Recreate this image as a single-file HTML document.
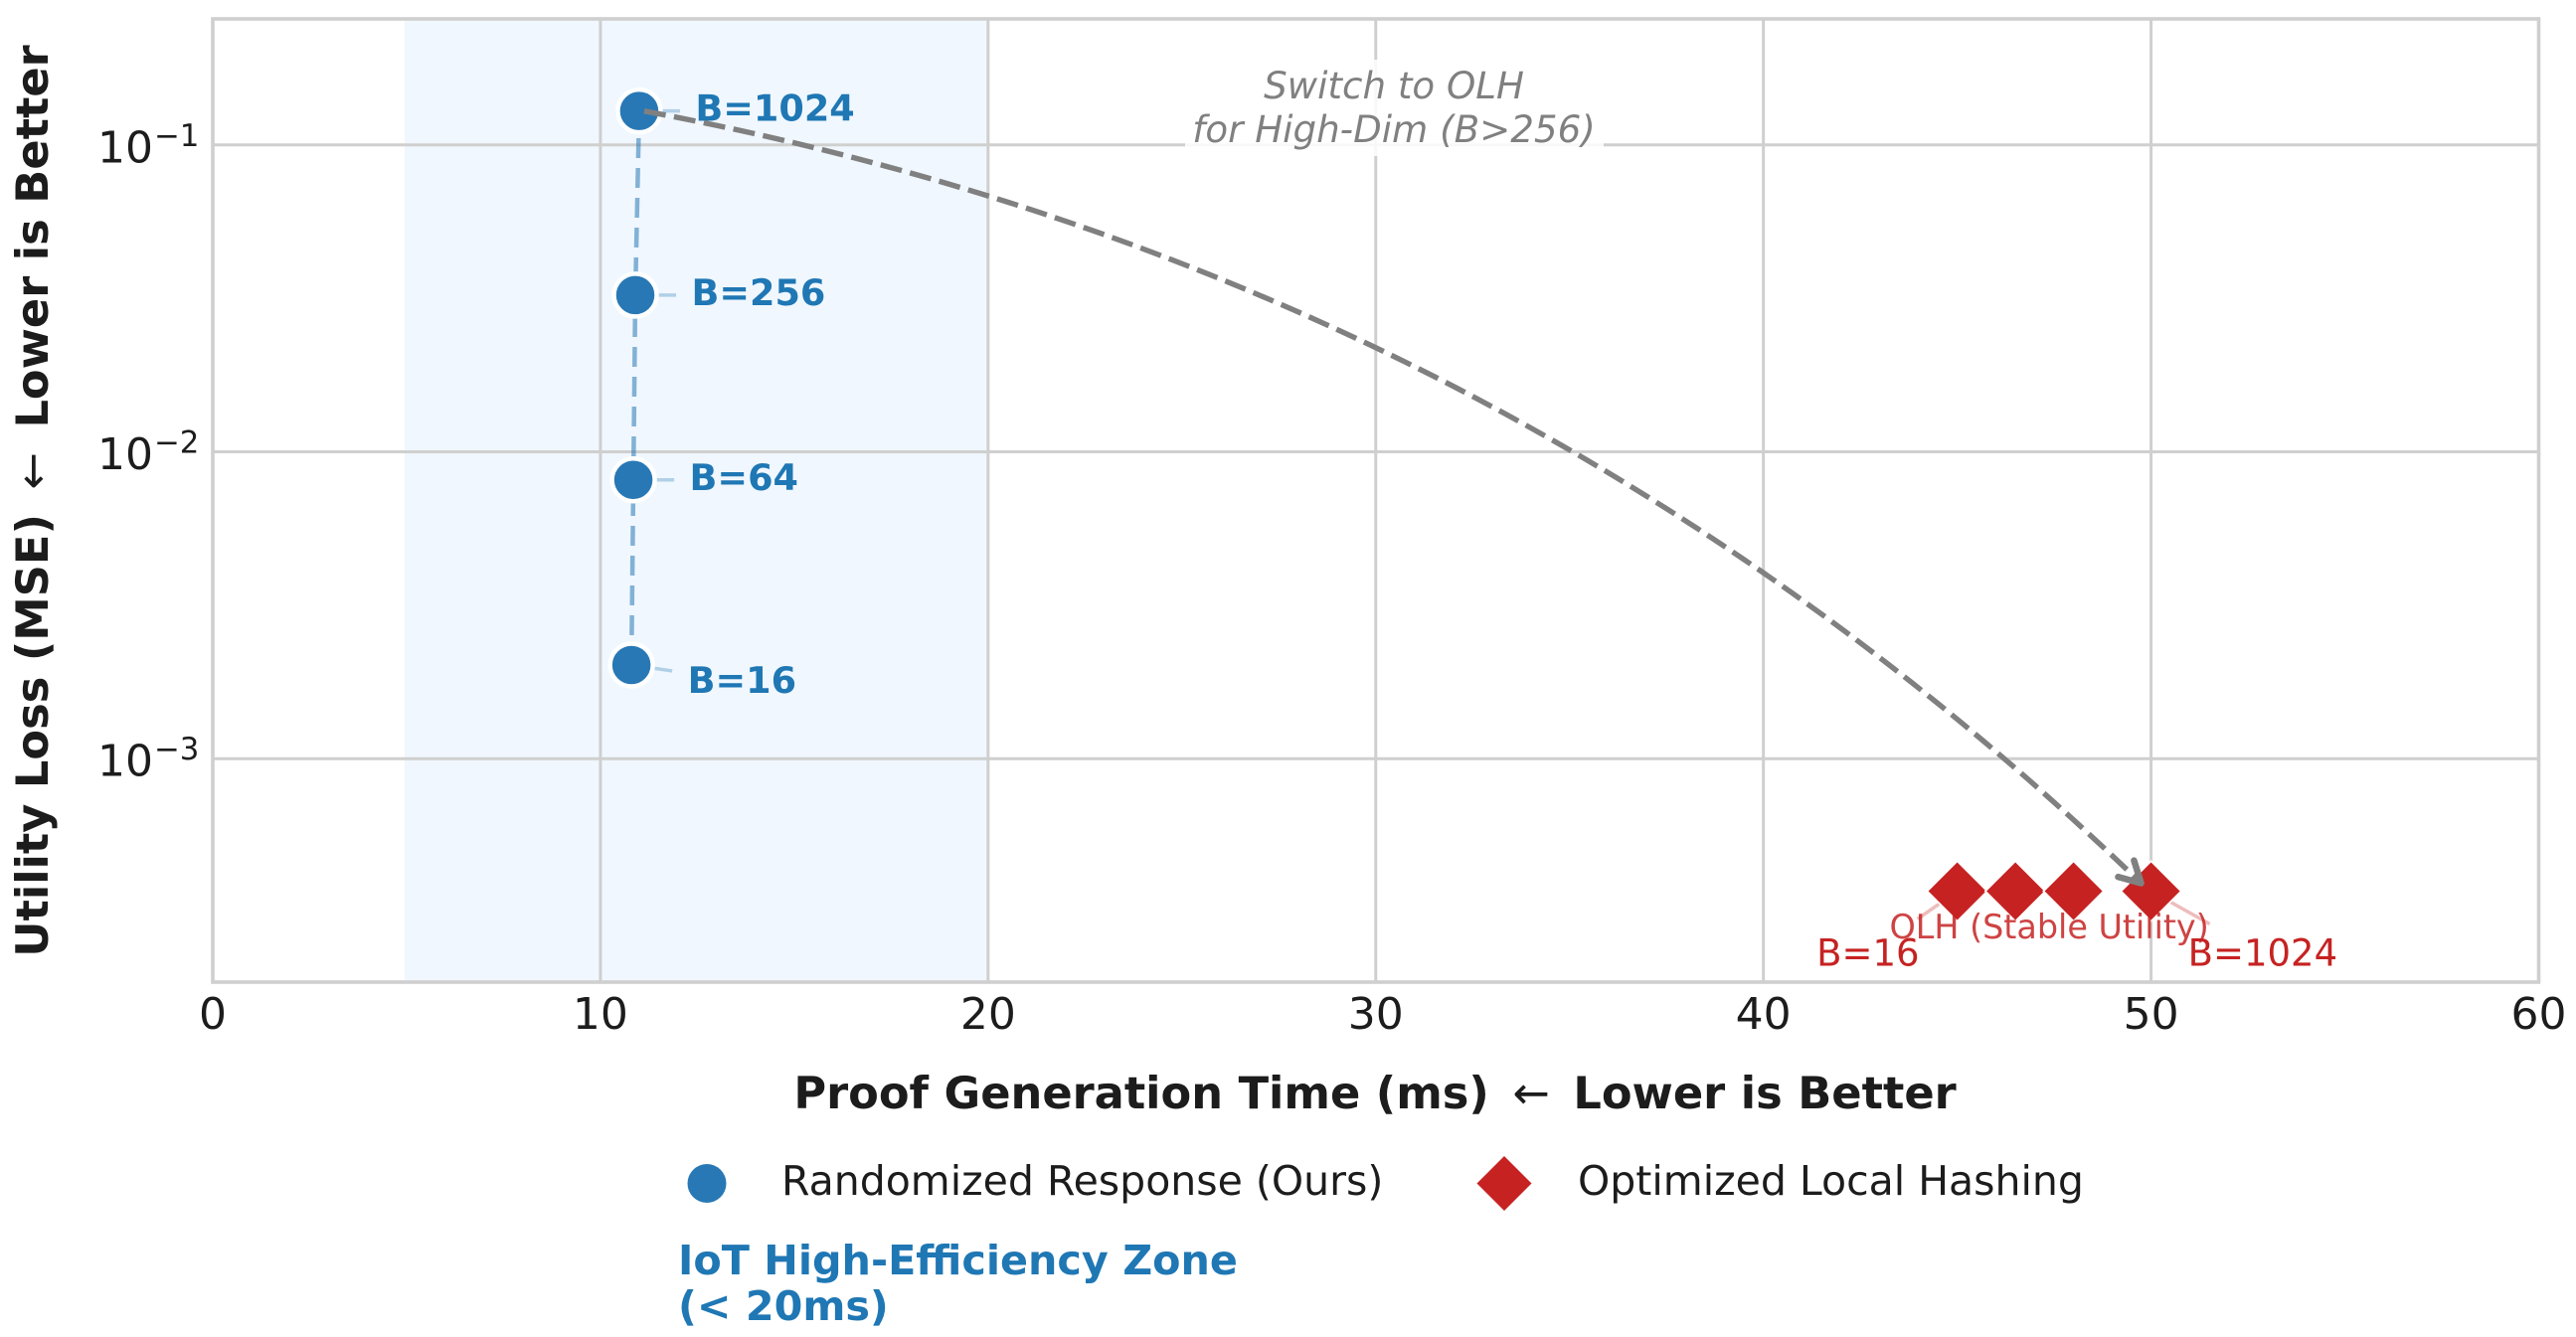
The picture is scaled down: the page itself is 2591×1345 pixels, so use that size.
<!DOCTYPE html>
<html lang="en">
<head>
<meta charset="utf-8">
<title>Proof Generation Time vs Utility Loss</title>
<style>
  html, body { margin: 0; padding: 0; background: #ffffff; }
  svg { display: block; font-family: "DejaVu Sans", "Liberation Sans", sans-serif; }
</style>
</head>
<body>
<svg id="chart" xmlns="http://www.w3.org/2000/svg" width="2591" height="1345" viewBox="0 0 2591 1345">
  <rect x="0" y="0" width="2591" height="1345" fill="#ffffff"/>
  <g id="zone-layer"></g>
  <g id="grid-layer"></g>
  <g id="frame-layer"></g>
  <g id="tick-layer" fill="#1c1c1c"></g>
  <g id="series-layer"></g>
  <g id="arrow-layer"></g>

  <rect x="1192" y="60" width="421" height="97" fill="#ffffff" fill-opacity="0.85"/>
  <text x="1402" y="99" text-anchor="middle" font-size="37.2" font-style="italic" fill="#808080">Switch to OLH</text>
  <text x="1402" y="143" text-anchor="middle" font-size="37.2" font-style="italic" fill="#808080">for High-Dim (B&gt;256)</text>

  <text x="1383" y="1115" text-anchor="middle" font-size="44.7" font-weight="bold" fill="#1c1c1c">Proof Generation Time (ms) <tspan dx="8" font-weight="normal">←</tspan><tspan dx="8"> Lower is Better</tspan></text>
  <text transform="translate(48 504) rotate(-90)" text-anchor="middle" font-size="44.7" font-weight="bold" fill="#1c1c1c">Utility Loss (MSE) <tspan dx="9" font-weight="normal">←</tspan><tspan dx="9"> Lower is Better</tspan></text>

  <g>
    <g>
      <circle cx="711" cy="1190.5" r="19.5" fill="#2878b5"/>
      <text x="786" y="1202" font-size="41" fill="#1c1c1c">Randomized Response (Ours)</text>
    </g>
    <g>
      <polygon points="1513,1163 1540.5,1190.5 1513,1218 1485.5,1190.5" fill="#c62222"/>
      <text x="1587" y="1202" font-size="41" fill="#1c1c1c">Optimized Local Hashing</text>
    </g>
  </g>

  <text x="682" y="1282" font-size="41.3" font-weight="bold" fill="#1f77b4">IoT High-Efficiency Zone</text>
  <text x="682" y="1328" font-size="41.3" font-weight="bold" fill="#1f77b4">(&lt; 20ms)</text>
</svg>

<script>
// ---- chart data ----
const xTicks = [0, 10, 20, 30, 40, 50, 60];
const yTickExponents = [-1, -2, -3];
const xDomain = [0, 60];
const yDomain = [0.000187, 0.2575];
const zoneRange = [4.95, 20];

const rrBudgets = ["B=16", "B=64", "B=256", "B=1024"];
const rrTime = [10.8, 10.85, 10.9, 11.0];
const rrMse = [0.00202, 0.0081, 0.0324, 0.129];

const olhBudgets = ["B=16", "", "", "B=1024"];
const olhTime = [45, 46.5, 48, 50];
const olhMse = [0.00037, 0.00037, 0.00037, 0.00037];
const olhSeriesLabel = "OLH (Stable Utility)";

// ---- layout ----
const plot = { left: 214, right: 2553.5, top: 19, bottom: 988 };
const NS = "http://www.w3.org/2000/svg";
const GRID = "#cfcfcf";
const BLUE = "#2878b5";
const BLUE_TEXT = "#1f77b4";
const RED = "#c62222";

function xScale(v) {
  return plot.left + (v - xDomain[0]) / (xDomain[1] - xDomain[0]) * (plot.right - plot.left);
}
function yScale(v) {
  const lo = Math.log10(yDomain[0]);
  const hi = Math.log10(yDomain[1]);
  return plot.bottom - (Math.log10(v) - lo) / (hi - lo) * (plot.bottom - plot.top);
}
function make(tag, attrs, parent) {
  const node = document.createElementNS(NS, tag);
  for (const key in attrs) node.setAttribute(key, attrs[key]);
  parent.appendChild(node);
  return node;
}

const zoneLayer = document.getElementById("zone-layer");
const gridLayer = document.getElementById("grid-layer");
const frameLayer = document.getElementById("frame-layer");
const tickLayer = document.getElementById("tick-layer");
const seriesLayer = document.getElementById("series-layer");
const arrowLayer = document.getElementById("arrow-layer");

// ---- shaded zone ----
const zone = make("rect", {
  x: xScale(zoneRange[0]), y: plot.top,
  width: xScale(zoneRange[1]) - xScale(zoneRange[0]),
  height: plot.bottom - plot.top, fill: "#f0f7fe"
}, zoneLayer);



// ---- grid + tick labels ----
xTicks.forEach(function (t) {
  const line = make("line", {
    x1: xScale(t), x2: xScale(t), y1: plot.top, y2: plot.bottom,
    stroke: GRID, "stroke-width": 3
  }, gridLayer);
  
  

  const label = make("text", {
    x: xScale(t), y: 1035, "text-anchor": "middle", "font-size": 44
  }, tickLayer);
  label.textContent = String(t);
  
  
});

yTickExponents.forEach(function (e) {
  const y = yScale(Math.pow(10, e));
  const line = make("line", {
    x1: plot.left, x2: plot.right, y1: y, y2: y,
    stroke: GRID, "stroke-width": 3
  }, gridLayer);
  
  

  const base = make("text", {
    x: 98, y: y + 17.5, "font-size": 44
  }, tickLayer);
  base.textContent = "10";
  
  

  const power = make("text", {
    x: 155, y: y + 1, "font-size": 30.8
  }, tickLayer);
  power.textContent = "\u2212" + Math.abs(e);
  
  
});

// ---- frame ----
const frame = make("rect", {
  x: plot.left, y: plot.top,
  width: plot.right - plot.left, height: plot.bottom - plot.top,
  fill: "none", stroke: GRID, "stroke-width": 3.6
}, frameLayer);



// ---- randomized response series ----
const rrPoints = rrTime.map(function (t, i) {
  return xScale(t) + "," + yScale(rrMse[i]);
}).join(" ");
const rrLine = make("polyline", {
  points: rrPoints, fill: "none", stroke: BLUE, "stroke-opacity": 0.55,
  "stroke-width": 4.5, "stroke-dasharray": "20 10"
}, seriesLayer);



rrBudgets.forEach(function (name, i) {
  const cx = xScale(rrTime[i]);
  const cy = yScale(rrMse[i]);
  const textDy = i === 0 ? 28 : 10;
  const leaderDy = i === 0 ? 6 : 0;

  const leader = make("line", {
    x1: cx, y1: cy, x2: cx + 41, y2: cy + leaderDy,
    stroke: BLUE_TEXT, "stroke-opacity": 0.3, "stroke-width": 3.5
  }, seriesLayer);
  
  

  const dot = make("circle", {
    cx: cx, cy: cy, r: 21.5, fill: BLUE, stroke: "#ffffff", "stroke-width": 4.5
  }, seriesLayer);
  
  

  const label = make("text", {
    x: cx + 56.5, y: cy + textDy, "font-size": 36.6, "font-weight": "bold", fill: BLUE_TEXT
  }, seriesLayer);
  label.textContent = name;
  
  
});

// ---- OLH series ----
olhBudgets.forEach(function (name, i) {
  if (!name) return;
  const cx = xScale(olhTime[i]);
  const cy = yScale(olhMse[i]);
  const side = i === 0 ? -1 : 1;
  const leader = make("line", {
    x1: cx, y1: cy, x2: cx + side * (i === 0 ? 40 : 59), y2: cy + (i === 0 ? 28 : 33),
    stroke: RED, "stroke-opacity": 0.3, "stroke-width": 3.5
  }, seriesLayer);
  
  
});

olhTime.forEach(function (t, i) {
  const cx = xScale(t);
  const cy = yScale(olhMse[i]);
  const h = 29;
  const diamond = make("polygon", {
    points: [cx, cy - h, cx + h, cy, cx, cy + h, cx - h, cy].join(","),
    fill: RED, stroke: "#ffffff", "stroke-width": 3.5, "paint-order": "stroke"
  }, seriesLayer);
  
  
});

const olhCenterX = (xScale(olhTime[0]) + xScale(olhTime[olhTime.length - 1])) / 2;
const olhTitle = make("text", {
  x: olhCenterX - 5, y: yScale(olhMse[0]) + 47.5, "text-anchor": "middle",
  "font-size": 33.4, fill: RED, "fill-opacity": 0.85
}, seriesLayer);
olhTitle.textContent = olhSeriesLabel;



olhBudgets.forEach(function (name, i) {
  if (!name) return;
  const cx = xScale(olhTime[i]);
  const cy = yScale(olhMse[i]);
  const label = make("text", {
    x: cx + (i === 0 ? -141.5 : 37), y: cy + 75, "font-size": 37, fill: RED
  }, seriesLayer);
  label.textContent = name;
  
  
});

// ---- curved arrow between the last points of each series ----
const ax = xScale(rrTime[rrTime.length - 1]) + 5;
const ay = yScale(rrMse[rrMse.length - 1]);
const bx = xScale(olhTime[olhTime.length - 1]) - 10;
const by = yScale(olhMse[olhMse.length - 1]) - 8;
const rad = 0.15;
const ctrlX = (ax + bx) / 2 + rad * (by - ay);
const ctrlY = (ay + by) / 2 - rad * (bx - ax);

const curve = make("path", {
  d: "M" + ax + " " + ay + " Q" + ctrlX + " " + ctrlY + " " + bx + " " + by,
  fill: "none", stroke: "#808080", "stroke-width": 5.4, "stroke-dasharray": "22 8.5"
}, arrowLayer);



const backAngle = Math.atan2(ctrlY - by, ctrlX - bx);
const wing = 24;
const spread = 0.5;
const head = make("polyline", {
  points: [
    bx + wing * Math.cos(backAngle + spread), by + wing * Math.sin(backAngle + spread),
    bx, by,
    bx + wing * Math.cos(backAngle - spread), by + wing * Math.sin(backAngle - spread)
  ].join(","),
  fill: "none", stroke: "#808080", "stroke-width": 6.5, "stroke-linecap": "round", "stroke-linejoin": "round"
}, arrowLayer);


</script>
</body>
</html>
